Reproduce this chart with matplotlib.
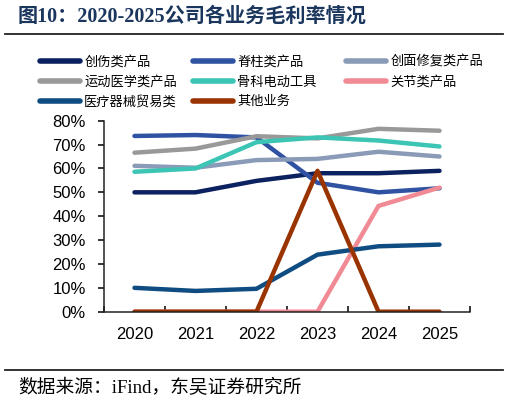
import matplotlib
matplotlib.use('Agg')
import matplotlib.pyplot as plt
from matplotlib.lines import Line2D

plt.rcParams['font.family'] = ['Liberation Sans', 'Noto Sans CJK SC']

# 数据
years = ['2020', '2021', '2022', '2023', '2024', '2025']
chuangshang = [0.50, 0.50, 0.548, 0.58, 0.58, 0.59]
jizhu = [0.736, 0.74, 0.73, 0.54, 0.50, 0.517]
chuangmian = [0.611, 0.603, 0.635, 0.64, 0.67, 0.65]
yundong = [0.666, 0.683, 0.735, 0.726, 0.766, 0.758]
guke = [0.586, 0.60, 0.71, 0.73, 0.717, 0.692]
guanjie = [0, 0, 0, 0, 0.443, 0.52]
yiliao = [0.10, 0.087, 0.096, 0.239, 0.274, 0.281]
qita = [0, 0, 0, 0.59, 0, 0]

series = [
    ('创伤类产品', chuangshang, '#0b2160'),
    ('脊柱类产品', jizhu, '#2f52a3'),
    ('创面修复类产品', chuangmian, '#8a9bb8'),
    ('运动医学类产品', yundong, '#999999'),
    ('骨科电动工具', guke, '#3cc4b4'),
    ('关节类产品', guanjie, '#f08a94'),
    ('医疗器械贸易类', yiliao, '#0f4c81'),
    ('其他业务', qita, '#993300'),
]

W, H = 509, 403
fig = plt.figure(figsize=(W / 100, H / 100), dpi=100)
ax = fig.add_axes([104 / W, 1 - 311.7 / H, (470 - 104) / W, (311.7 - 120.7) / H])

x = list(range(len(years)))
for name, vals, col in series:
    ax.plot(x, vals, color=col, lw=3.2, label=name, solid_capstyle='round')

ax.set_xlim(-0.5, 5.5)
ax.set_ylim(0, 0.8)
ax.set_yticks([i / 10 for i in range(9)])
ax.set_yticklabels(['%d%%' % (i * 10) for i in range(9)], fontsize=12)
ax.set_xticks(x)
ax.set_xticklabels(years, fontsize=12)
ax.set_xticks([i - 0.5 for i in range(7)], minor=True)
ax.tick_params(axis='x', which='major', length=0, pad=11)
ax.tick_params(axis='x', which='minor', direction='in', length=4, width=1.1)
ax.tick_params(axis='y', direction='out', length=4, width=1.1, pad=9)
for s in ['top', 'right']:
    ax.spines[s].set_visible(False)
for s in ['left', 'bottom']:
    ax.spines[s].set_linewidth(1.1)
    ax.spines[s].set_color('#222222')

# 图例，按行排列三列
handles = ax.get_lines()
cols_x = [40, 193, 346]
for c in range(3):
    hs = handles[c::3]
    leg = fig.legend(hs, [h.get_label() for h in hs], loc='upper left',
                     bbox_to_anchor=(cols_x[c] / W, 1 - 56 / H),
                     frameon=False, handlelength=3.0,
                     handletextpad=0.35, labelspacing=0.5,
                     borderpad=0, borderaxespad=0,
                     prop={'family': ['Noto Sans CJK SC'], 'size': 9.5})
    for line in leg.get_lines():
        line.set_linewidth(4)

fig.text(18 / W, 1 - 17 / H, '图10：2020-2025公司各业务毛利率情况',
         fontsize=14.5, fontweight='bold', color='#1b365d', va='center',
         family=['Liberation Serif', 'Noto Sans CJK SC'])
fig.add_artist(Line2D([5 / W, 503 / W], [1 - 34 / H, 1 - 34 / H], color='#222222', lw=1.3))
fig.add_artist(Line2D([5 / W, 503 / W], [1 - 370 / H, 1 - 370 / H], color='#222222', lw=1.3))
fig.text(18 / W, 1 - 388 / H, '数据来源：iFind，东吴证券研究所', fontsize=13.5,
         va='center', family=['Liberation Serif', 'Noto Sans CJK SC'])

fig.savefig('out.png', dpi=100)
